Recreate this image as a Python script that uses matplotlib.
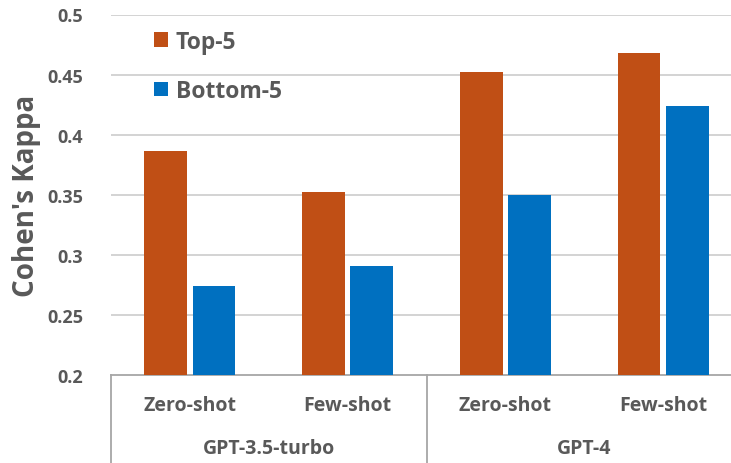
import numpy as np
import matplotlib
matplotlib.use('Agg')
import matplotlib.pyplot as plt
from matplotlib.lines import Line2D

# data
groups = ['GPT-3.5-turbo', 'GPT-4']
settings = ['Zero-shot', 'Few-shot', 'Zero-shot', 'Few-shot']
top5 = [0.386, 0.352, 0.452, 0.468]
bottom5 = [0.274, 0.291, 0.350, 0.424]
yticks = [0.2, 0.25, 0.3, 0.35, 0.4, 0.45, 0.5]

orange = '#C04F15'
blue = '#0070C0'
text_gray = '#595959'

plt.rcParams['font.family'] = ['Open Sans', 'DejaVu Sans']
plt.rcParams['font.weight'] = 'bold'

W, H = 731, 464
fig = plt.figure(figsize=(W / 100, H / 100), dpi=100)
ax = fig.add_axes([111 / W, (H - 376) / H, 631 / W, (376 - 15.5) / H])
axes_h = 376 - 15.5

x = np.arange(len(settings)) + 0.5
width = 0.27
off = 0.153
ax.bar(x - off, top5, width, color=orange, label='Top-5', zorder=3)
ax.bar(x + off, bottom5, width, color=blue, label='Bottom-5', zorder=3)

ax.set_xlim(0, 4)
ax.set_ylim(0.2, 0.5)
ax.set_yticks(yticks)
ax.set_yticklabels([f'{t:g}' for t in yticks], fontsize=13, color=text_gray, fontweight='bold')
ax.tick_params(axis='y', length=0, pad=20)
ax.set_xticks([])
for t in yticks[1:]:
    ax.axhline(t, color='#D0D0D0', lw=1.3, zorder=1)
for s in ['top', 'right', 'left']:
    ax.spines[s].set_visible(False)
ax.spines['bottom'].set_color('#A6A6A6')
ax.spines['bottom'].set_linewidth(1.3)

ax.set_ylabel("Cohen's Kappa", fontsize=20, color=text_gray, fontweight='bold')
ax.yaxis.set_label_coords((41 - 111) / 631, 0.5)

# category labels
for xi, s in zip(x, settings):
    ax.text(xi, -(406 - 376) / axes_h, s, ha='center', va='center',
            fontsize=14, color=text_gray, fontweight='bold',
            transform=ax.get_xaxis_transform())
for gi, g in enumerate(groups):
    ax.text(gi * 2 + 1, -(449 - 376) / axes_h, g, ha='center', va='center',
            fontsize=14, color=text_gray, fontweight='bold',
            transform=ax.get_xaxis_transform())

# group separators
for xs in [0, 2, 4]:
    ax.add_line(Line2D([xs, xs], [0, -0.3], color='#A6A6A6', lw=1.3,
                       transform=ax.get_xaxis_transform(), clip_on=False))

leg = ax.legend(loc='upper left', bbox_to_anchor=(34 / 631, 1 - 6 / axes_h),
                frameon=False, fontsize=16.5, labelspacing=1.1,
                handlelength=0.6, handleheight=0.6, handletextpad=0.35,
                borderaxespad=0)
for t in leg.get_texts():
    t.set_color(text_gray)
    t.set_fontweight('bold')

fig.savefig('out.png', dpi=100)
